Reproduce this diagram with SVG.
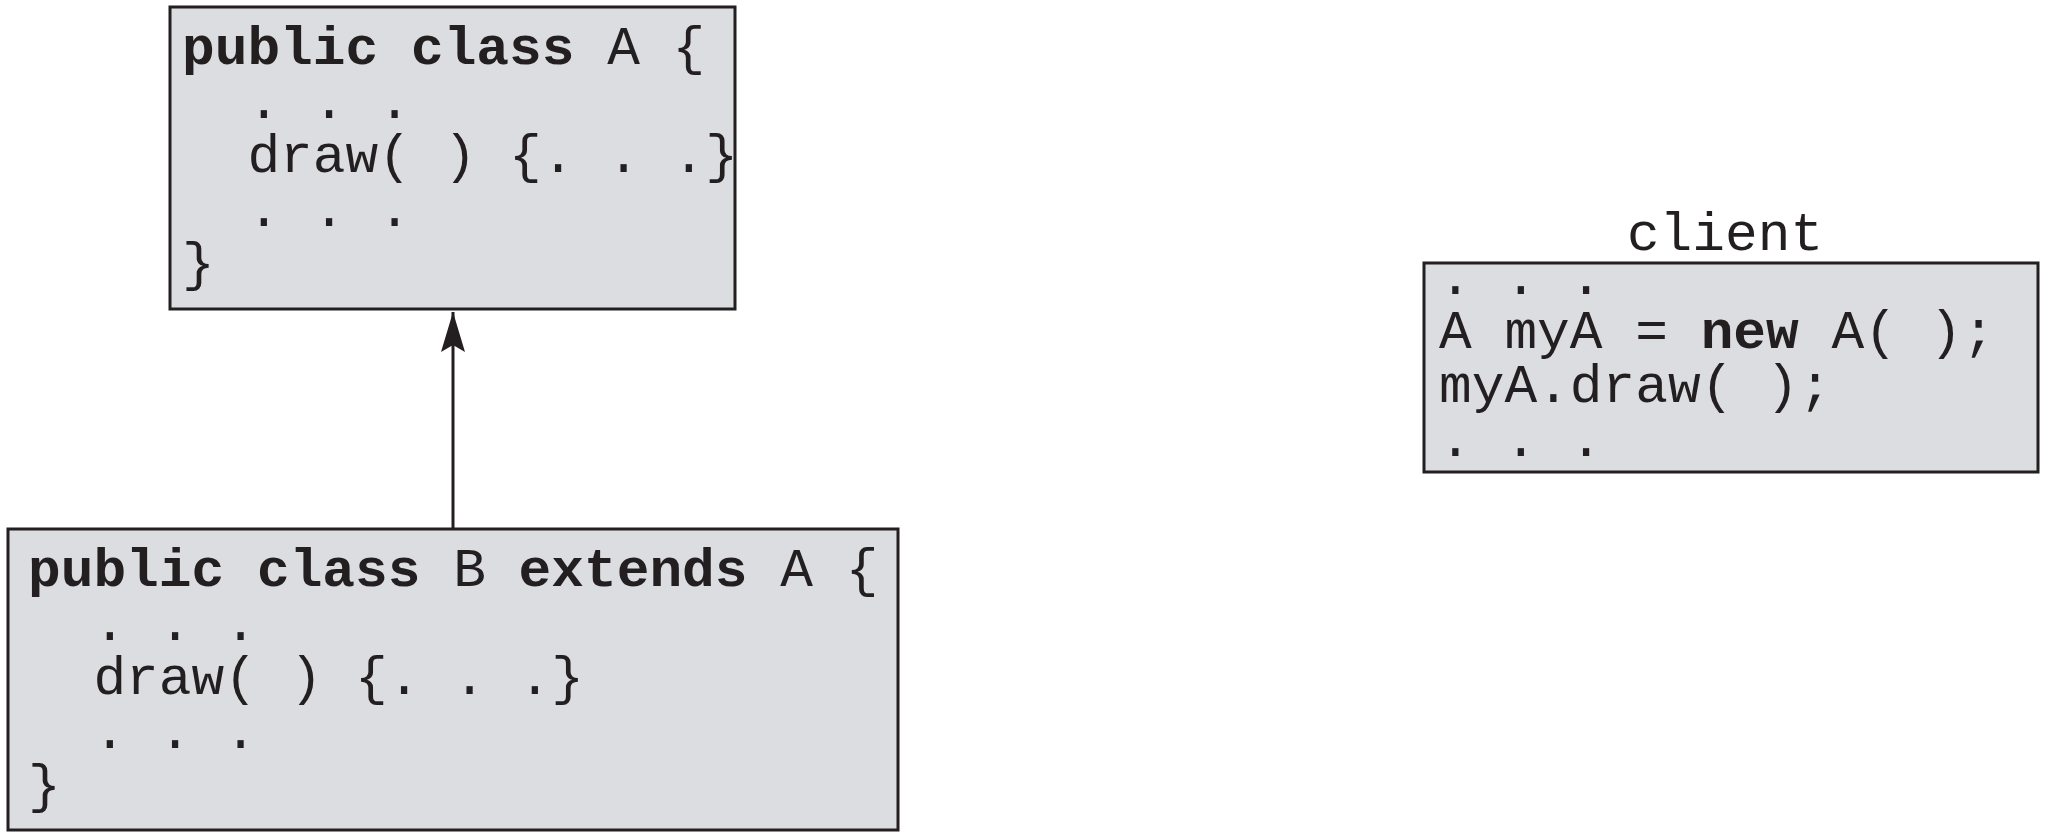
<svg xmlns="http://www.w3.org/2000/svg" width="2048" height="840" viewBox="0 0 2048 840">
<style>
.box{fill:#dcdde0;stroke:#231f20;stroke-width:3}
.t{font-family:"Liberation Mono","Courier New",monospace;font-size:54.5px;fill:#231f20;white-space:pre}
.b{font-weight:bold}
.conn{stroke:#231f20;stroke-width:3;fill:none}
</style>
<defs>
<marker id="arr" markerUnits="userSpaceOnUse" markerWidth="42" markerHeight="26" viewBox="0 0 42 26" refX="41" refY="13" orient="auto">
<path d="M41,13 L1,1 L8,13 L1,25 Z" fill="#231f20"/>
</marker>
</defs>
<rect width="2048" height="840" fill="#ffffff"/>
<g id="connectors">
<line class="conn" x1="453" y1="528" x2="453" y2="312" marker-end="url(#arr)"/>
</g>
<g id="classA">
<rect class="box" x="170" y="7" width="565" height="302"/>
<text class="t" xml:space="preserve"><tspan x="182" y="64"><tspan class="b">public class</tspan> A {</tspan><tspan x="182" y="118">  . . .</tspan><tspan x="182" y="172">  draw( ) {. . .}</tspan><tspan x="182" y="226">  . . .</tspan><tspan x="182" y="280">}</tspan></text>
</g>
<g id="classB">
<rect class="box" x="8" y="529" width="890" height="301"/>
<text class="t" xml:space="preserve"><tspan x="28" y="586"><tspan class="b">public class</tspan> B <tspan class="b">extends</tspan> A {</tspan><tspan x="28" y="640">  . . .</tspan><tspan x="28" y="694">  draw( ) {. . .}</tspan><tspan x="28" y="748">  . . .</tspan><tspan x="28" y="802">}</tspan></text>
</g>
<g id="client">
<text class="t" x="1725" y="250" text-anchor="middle">client</text>
<rect class="box" x="1424" y="263" width="614" height="209"/>
<text class="t" xml:space="preserve"><tspan x="1439" y="294">. . .</tspan><tspan x="1439" y="348">A myA = <tspan class="b">new</tspan> A( );</tspan><tspan x="1439" y="402">myA.draw( );</tspan><tspan x="1439" y="456">. . .</tspan></text>
</g>
</svg>
